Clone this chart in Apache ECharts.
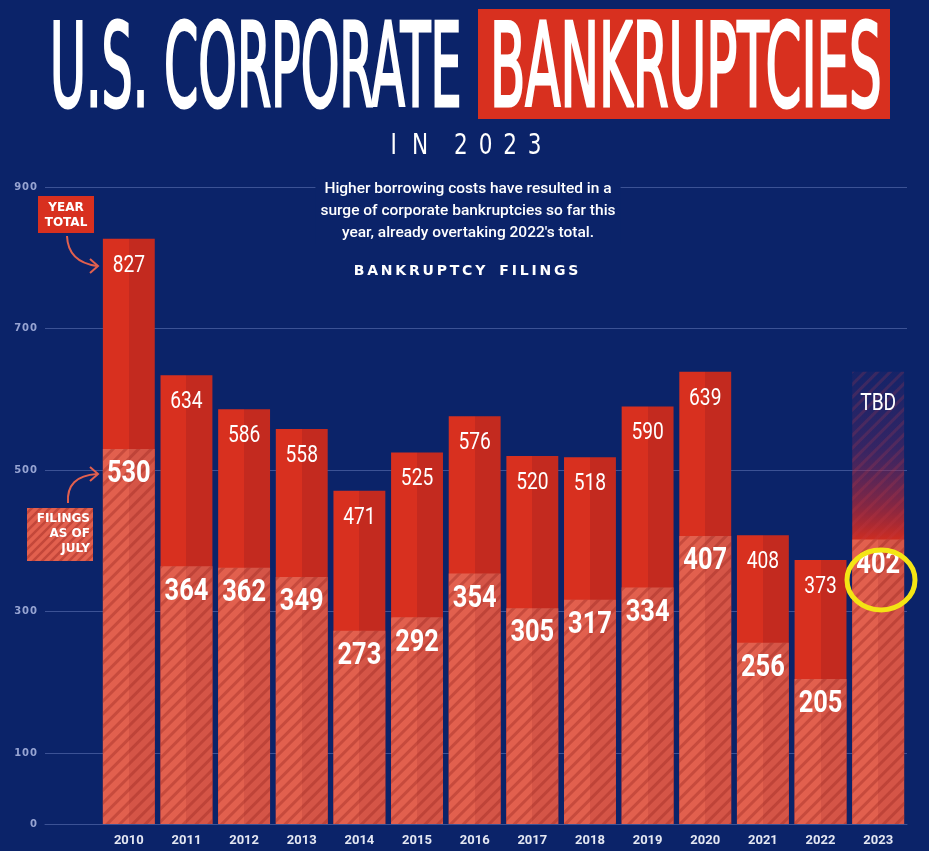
<!DOCTYPE html>
<html>
<head>
<meta charset="utf-8">
<title>U.S. Corporate Bankruptcies in 2023</title>
<script src="https://cdn.jsdelivr.net/npm/echarts@6.0.0/dist/echarts.min.js"></script>
<style>
  html, body { margin: 0; padding: 0; background: #0b2369; }
  #chart { width: 929px; height: 851px; }
</style>
</head>
<body>
<div id="chart"></div>
<script>
// data
var years = ['2010', '2011', '2012', '2013', '2014', '2015', '2016', '2017', '2018', '2019', '2020', '2021', '2022', '2023'];
var yearTotals = [827, 634, 586, 558, 471, 525, 576, 520, 518, 590, 639, 408, 373, null];
var julyFilings = [530, 364, 362, 349, 273, 292, 354, 305, 317, 334, 407, 256, 205, 402];
var tbdBarValue = 639; // height of the faded 2023 "TBD" bar
var yTickLabels = [0, 100, 300, 500, 700, 900];

var NAVY = '#0b2369';
var RED = '#d8301f';
var RED_DARK = '#c32a1f';
var SALMON = '#e2604e';
var SALMON_DARK = '#d55547';
var GRIDLINE = 'rgba(120,140,205,0.45)';

function twoTone(a, b) {
    return new echarts.graphic.LinearGradient(0, 0, 1, 0, [
        { offset: 0, color: a }, { offset: 0.5, color: a },
        { offset: 0.5, color: b }, { offset: 1, color: b }
    ]);
}

var stripes = {
    symbol: 'rect',
    symbolSize: 1,
    color: 'rgba(150,35,30,0.35)',
    dashArrayX: [1, 0],
    dashArrayY: [3, 6],
    rotation: -Math.PI / 4
};

// little striped tile for the legend box
var tile = document.createElement('canvas');
tile.width = 9; tile.height = 9;
(function () {
    var c = tile.getContext('2d');
    c.fillStyle = SALMON; c.fillRect(0, 0, 9, 9);
    c.strokeStyle = 'rgba(150,35,30,0.4)'; c.lineWidth = 2.5;
    c.beginPath();
    c.moveTo(-1, 10); c.lineTo(10, -1);
    c.moveTo(-1, 1); c.lineTo(1, -1);
    c.moveTo(8, 10); c.lineTo(10, 8);
    c.stroke();
})();

// the 2023 total is not known yet: faded bar that turns red where the July bar starts
var tbdRedAt = julyFilings[13] / tbdBarValue;
var totalData = yearTotals.map(function (v) {
    if (v !== null) return v;
    var f = 1 - tbdRedAt;
    return {
        value: tbdBarValue,
        itemStyle: {
            color: new echarts.graphic.LinearGradient(0, 0, 0, 1, [
                { offset: 0, color: 'rgba(110,40,100,0.10)' },
                { offset: f * 0.45, color: 'rgba(130,40,90,0.35)' },
                { offset: f * 0.8, color: 'rgba(185,40,50,0.7)' },
                { offset: f, color: 'rgba(215,45,30,0.95)' },
                { offset: 1, color: RED_DARK }
            ]),
            decal: { symbol: 'rect', symbolSize: 1, color: 'rgba(200,60,70,0.2)', dashArrayX: [1, 0], dashArrayY: [3, 6], rotation: -Math.PI / 4 }
        }
    };
});

// bar value labels drawn as narrowed text on the bar tops
function labelSeries(values, texts, font, sx, dy) {
    return {
        type: 'custom',
        xAxisIndex: 1, yAxisIndex: 1,
        z: 8, silent: true,
        data: values.map(function (v, i) { return [i, v]; }),
        renderItem: function (params, api) {
            var p = api.coord([api.value(0), api.value(1)]);
            var t = texts[params.dataIndex];
            return {
                type: 'text',
                x: p[0], y: p[1] + dy + (t === 'TBD' ? 5 : 0),
                scaleX: sx,
                style: {
                    text: t,
                    fill: '#fff', font: font,
                    textAlign: 'center', textVerticalAlign: 'top'
                }
            };
        }
    };
}

var totalLabelValues = yearTotals.map(function (v) { return v === null ? tbdBarValue : v; });
var totalLabelTexts = yearTotals.map(function (v) { return v === null ? 'TBD' : String(v); });
var julyLabelTexts = julyFilings.map(String);

var chart = echarts.init(document.getElementById('chart'));

var option = {
    backgroundColor: NAVY,
    animation: false,
    grid: [
        { left: 45, right: 22, top: 187, bottom: 27 },
        { left: 100, right: 22, top: 187, bottom: 27 }
    ],
    xAxis: [
        {
            gridIndex: 0, type: 'value', min: 0, max: 1,
            axisLine: { show: true, lineStyle: { color: GRIDLINE, width: 1 } },
            axisTick: { show: false }, axisLabel: { show: false }, splitLine: { show: false }
        },
        {
            gridIndex: 1, type: 'category', data: years,
            axisLine: { show: false }, axisTick: { show: false },
            axisLabel: { color: '#e4e7f2', fontSize: 13, fontWeight: 'bold', fontFamily: 'Roboto', margin: 10 }
        }
    ],
    yAxis: [
        {
            gridIndex: 0, type: 'value', min: 0, max: 900, interval: 100,
            axisLine: { show: false }, axisTick: { show: false },
            axisLabel: {
                color: '#97a4d2', fontSize: 10, fontWeight: 'bold', fontFamily: 'DejaVu Sans', margin: 8,
                formatter: function (v) {
                    return yTickLabels.indexOf(v) >= 0 ? String(v).split('').join('\u200a') : '';
                }
            },
            splitLine: { show: true, showMinLine: false, lineStyle: { color: [GRIDLINE, 'transparent'], width: 1 } }
        },
        {
            gridIndex: 1, type: 'value', min: 0, max: 900, interval: 100,
            show: false, splitLine: { show: false }
        }
    ],
    series: [
        {
            name: 'Year total',
            type: 'bar',
            xAxisIndex: 1, yAxisIndex: 1,
            barWidth: '90%',
            barGap: '-100%',
            z: 3,
            data: totalData,
            itemStyle: { color: twoTone(RED, RED_DARK) }
        },
        {
            name: 'Filings as of July',
            type: 'bar',
            xAxisIndex: 1, yAxisIndex: 1,
            barWidth: '90%',
            barGap: '-100%',
            z: 4,
            data: julyFilings,
            itemStyle: { color: twoTone(SALMON, SALMON_DARK), decal: stripes }
        },
        labelSeries(totalLabelValues, totalLabelTexts, '24px Roboto', 0.8, 15),
        labelSeries(julyFilings, julyLabelTexts, 'bold 31px Roboto', 0.82, 10)
    ],
    graphic: [
        // title
        {
            type: 'text', x: 50, y: 18, scaleX: 0.91, scaleY: 1.93, z: 10,
            style: { text: 'U.S. CORPORATE', fill: '#fff', font: '60px "DejaVu Sans Condensed"', textVerticalAlign: 'top', stroke: '#fff', lineWidth: 1.6 }
        },
        {
            type: 'rect', shape: { x: 478, y: 9, width: 412, height: 110 }, z: 9,
            style: { fill: RED }
        },
        {
            type: 'text', x: 490, y: 18, scaleX: 0.954, scaleY: 1.93, z: 10,
            style: { text: 'BANKRUPTCIES', fill: '#fff', font: '60px "DejaVu Sans Condensed"', textVerticalAlign: 'top', stroke: '#fff', lineWidth: 1.6 }
        },
        {
            type: 'text', x: 466, y: 133, scaleY: 1.15, z: 10,
            style: { text: 'I\u2002\u2009N\u2003\u20092\u20020\u20022\u20023', fill: '#fff', font: '24px "DejaVu Sans Condensed"', textAlign: 'center', textVerticalAlign: 'top' }
        },
        // subtitle
        {
            type: 'text', x: 468, y: 178, z: 10,
            style: {
                text: 'Higher borrowing costs have resulted in a\nsurge of corporate bankruptcies so far this\nyear, already overtaking 2022\'s total.',
                fill: '#fff', font: '500 15.5px Roboto', lineHeight: 22, textAlign: 'center', textVerticalAlign: 'top',
                backgroundColor: NAVY, padding: [0, 5]
            }
        },
        {
            type: 'text', x: 466, y: 264, z: 10,
            style: { text: 'B\u2009A\u2009N\u2009K\u2009R\u2009U\u2009P\u2009T\u2009C\u2009Y\u2003F\u2009I\u2009L\u2009I\u2009N\u2009G\u2009S', fill: '#fff', font: 'bold 14px "DejaVu Sans"', textAlign: 'center', textVerticalAlign: 'top' }
        },
        // YEAR TOTAL note
        {
            type: 'rect', shape: { x: 38, y: 196, width: 56, height: 37 }, z: 10,
            style: { fill: RED }
        },
        {
            type: 'text', x: 66, y: 200, z: 11,
            style: { text: 'YEAR\nTOTAL', fill: '#fff', font: 'bold 12px "DejaVu Sans"', lineHeight: 15, textAlign: 'center', textVerticalAlign: 'top' }
        },
        {
            type: 'bezierCurve', z: 10,
            shape: { x1: 67, y1: 236, cpx1: 68, cpy1: 262, x2: 97, y2: 266 },
            style: { stroke: SALMON, lineWidth: 2, fill: 'none' }
        },
        {
            type: 'polyline', z: 10,
            shape: { points: [[90, 259], [98, 266], [90, 273]] },
            style: { stroke: SALMON, lineWidth: 2, fill: 'none' }
        },
        // FILINGS AS OF JULY note
        {
            type: 'rect', shape: { x: 27, y: 508, width: 66, height: 53 }, z: 10,
            style: { fill: { image: tile, repeat: 'repeat' } }
        },
        {
            type: 'text', x: 90, y: 511, z: 11,
            style: { text: 'FILINGS\nAS OF\nJULY', fill: '#fff', font: 'bold 12px "DejaVu Sans"', lineHeight: 15, textAlign: 'right', textVerticalAlign: 'top' }
        },
        {
            type: 'bezierCurve', z: 10,
            shape: { x1: 68, y1: 503, cpx1: 66, cpy1: 476, x2: 97, y2: 474 },
            style: { stroke: SALMON, lineWidth: 2, fill: 'none' }
        },
        {
            type: 'polyline', z: 10,
            shape: { points: [[90, 467], [98, 474], [90, 481]] },
            style: { stroke: SALMON, lineWidth: 2, fill: 'none' }
        },
        // yellow highlight around 2023 filings
        {
            type: 'ellipse', z: 20,
            shape: { cx: 881, cy: 580, rx: 34, ry: 30 },
            style: { stroke: '#f4e514', lineWidth: 5, fill: 'none' }
        }
    ]
};
chart.setOption(option);
</script>
</body>
</html>
